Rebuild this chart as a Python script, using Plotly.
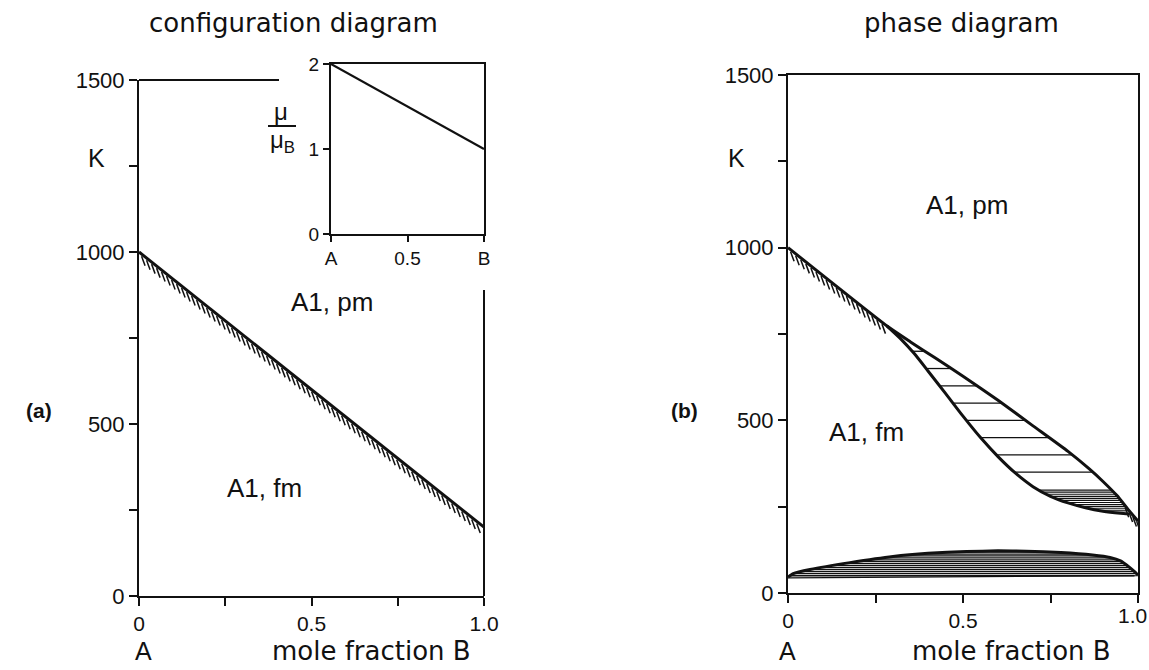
import numpy as np
import plotly.graph_objects as go

# ---- data -------------------------------------------------------------
# (a) configuration diagram: Curie temperature, linear between A and B
tc_x = [0.0, 1.0]
tc_K = [1000, 200]

# inset: magnetic moment per atom (in Bohr magnetons)
mu_x = [0.0, 1.0]
mu_val = [2.0, 1.0]

# (b) phase diagram: upper boundary (pm side) of the fm + pm two-phase field
pm_x = [0.0, 0.283, 0.35, 0.42, 0.50, 0.60, 0.70, 0.80, 0.86, 0.90, 0.94, 0.97, 1.0]
pm_K = [1000, 773, 727, 681, 628, 558, 484, 410, 360, 323, 282, 244, 208]

# lower boundary (fm side) of the two-phase field
fm_x = [0.283, 0.32, 0.36, 0.40, 0.45, 0.50, 0.55, 0.60, 0.65, 0.70, 0.75, 0.80, 0.85, 0.90, 0.95, 0.975]
fm_K = [773, 738, 694, 643, 578, 512, 450, 395, 347, 308, 280, 261, 247, 237, 231, 229]

# low-temperature miscibility gap (lens)
gap_x = [0.0, 0.015, 0.063, 0.177, 0.30, 0.40, 0.51, 0.60, 0.68, 0.78, 0.87, 0.92, 0.95, 0.975, 0.99, 1.0]
gap_K = [46, 56, 68, 88, 106, 115, 120, 122, 121, 117, 110, 103, 93, 75, 62, 52]
gap_floor_K = [44, 50]

# tie-line levels inside the two-phase fields
tie_K_sparse = [700, 650, 600, 550, 500, 450, 400, 350]
tie_K_dense = list(np.arange(298, 234, -6))
tie_K_gap = list(np.arange(50, 121, 6))

# axis ticks: labelled majors and unlabelled minors
x_major = [0, 0.5, 1.0]
x_major_text = ["0", "0.5", "1.0"]
x_minor = [0.25, 0.75]
y_major = [0, 500, 1000, 1500]
y_major_text = ["0", "500", "1000", "1500"]
y_minor = [250, 750, 1250]

# ---- geometry helpers -------------------------------------------------
W, H = 1149, 670
A_PX = (139, 484, 80, 596)    # left, right, top, bottom of panel (a)
B_PX = (788, 1138, 75, 593)   # panel (b)
I_PX = (331, 484, 64, 234)    # inset


def dom(px):
    l, r, t, b = px
    return [l / W, r / W], [1 - b / H, 1 - t / H]


def hatch(xs, Ks, x0, x1, step, px):
    """Short slanted strokes hanging beneath a boundary curve."""
    l, r, t, b = px
    sx = (r - l) / 1.0
    sy = (b - t) / 1500.0
    hx, hy = [], []
    for x in np.arange(x0, x1, step):
        k = np.interp(x, xs, Ks)
        hx += [x + 0.5 / sx, x + 4.0 / sx, None]
        hy += [k - 2.5 / sy, k - 12.0 / sy, None]
    return hx, hy


def ties(levels, lo_x, lo_K, hi_x, hi_K):
    """Horizontal tie lines between two boundaries (K decreasing with x)."""
    tx, ty = [], []
    for k in levels:
        xa = np.interp(k, lo_K[::-1], lo_x[::-1])
        xb = np.interp(k, hi_K[::-1], hi_x[::-1])
        tx += [xa, xb, None]
        ty += [k, k, None]
    return tx, ty


def gap_ties(levels, xs, Ks):
    xs = np.asarray(xs)
    Ks = np.asarray(Ks)
    i = int(np.argmax(Ks))
    tx, ty = [], []
    for k in levels:
        if k > Ks[i] - 2:
            continue
        xa = np.interp(k, Ks[: i + 1], xs[: i + 1]) if k > Ks[0] else 0.01
        xb = np.interp(k, Ks[i:][::-1], xs[i:][::-1]) if k > Ks[-1] else 0.99
        tx += [xa, xb, None]
        ty += [k, k, None]
    return tx, ty


BLACK = "#111111"
fig = go.Figure()

# ---- panel (a) --------------------------------------------------------
hx, hy = hatch(tc_x, tc_K, 0.006, 0.985, 0.0145, A_PX)
fig.add_trace(go.Scatter(x=hx, y=hy, mode="lines", line=dict(color=BLACK, width=1.5),
                         xaxis="x", yaxis="y", hoverinfo="skip", cliponaxis=False))
fig.add_trace(go.Scatter(x=tc_x, y=tc_K, mode="lines", line=dict(color=BLACK, width=3),
                         xaxis="x", yaxis="y"))

# inset
fig.add_trace(go.Scatter(x=mu_x, y=mu_val, mode="lines", line=dict(color=BLACK, width=2.2),
                         xaxis="x3", yaxis="y3"))

# ---- panel (b) --------------------------------------------------------
tx, ty = ties(tie_K_sparse, fm_x, fm_K, pm_x, pm_K)
fig.add_trace(go.Scatter(x=tx, y=ty, mode="lines", line=dict(color=BLACK, width=1.3),
                         xaxis="x2", yaxis="y2", hoverinfo="skip"))
tx, ty = ties(tie_K_dense, fm_x, fm_K, pm_x, pm_K)
fig.add_trace(go.Scatter(x=tx, y=ty, mode="lines", line=dict(color=BLACK, width=1.2),
                         xaxis="x2", yaxis="y2", hoverinfo="skip"))

hx, hy = hatch(pm_x, pm_K, 0.006, 0.27, 0.0145, B_PX)
hx2, hy2 = hatch(pm_x, pm_K, 0.962, 0.995, 0.011, B_PX)
fig.add_trace(go.Scatter(x=hx + hx2, y=hy + hy2, mode="lines", line=dict(color=BLACK, width=1.5),
                         xaxis="x2", yaxis="y2", hoverinfo="skip"))

fig.add_trace(go.Scatter(x=pm_x, y=pm_K, mode="lines",
                         line=dict(color=BLACK, width=3, shape="spline", smoothing=0.5),
                         xaxis="x2", yaxis="y2"))
fig.add_trace(go.Scatter(x=fm_x, y=fm_K, mode="lines",
                         line=dict(color=BLACK, width=3, shape="spline", smoothing=0.5),
                         xaxis="x2", yaxis="y2"))

# miscibility gap
tx, ty = gap_ties(tie_K_gap, gap_x, gap_K)
fig.add_trace(go.Scatter(x=tx, y=ty, mode="lines", line=dict(color=BLACK, width=1.3),
                         xaxis="x2", yaxis="y2", hoverinfo="skip"))
fig.add_trace(go.Scatter(x=[0.0, 1.0], y=gap_floor_K, mode="lines", line=dict(color=BLACK, width=1.2),
                         xaxis="x2", yaxis="y2"))
fig.add_trace(go.Scatter(x=gap_x, y=gap_K, mode="lines",
                         line=dict(color=BLACK, width=3, shape="spline", smoothing=0.4),
                         xaxis="x2", yaxis="y2"))

# ---- axes -------------------------------------------------------------
FAM = "Liberation Sans, Arial, sans-serif"
common = dict(showgrid=False, zeroline=False, showline=True, linecolor=BLACK, linewidth=2,
              ticks="outside", ticklen=8, tickwidth=2, tickcolor=BLACK, automargin=False,
              ticklabeloverflow="allow")


def minor(vals):
    return dict(tickvals=vals, ticks="outside", ticklen=8, tickwidth=2, tickcolor=BLACK, showgrid=False)


xfont = dict(family=FAM, size=21, color=BLACK)
yfont = dict(family=FAM, size=22, color=BLACK)
ifont = dict(family=FAM, size=19, color=BLACK)

ax_dx, ax_dy = dom(A_PX)
bx_dx, bx_dy = dom(B_PX)
in_dx, in_dy = dom(I_PX)

fig.update_layout(
    xaxis=dict(domain=ax_dx, range=[0, 1], tickvals=x_major, ticktext=x_major_text,
               minor=minor(x_minor), anchor="y", tickfont=xfont, **common),
    yaxis=dict(domain=ax_dy, range=[0, 1500], tickvals=y_major, ticktext=y_major_text,
               minor=minor(y_minor), anchor="x", tickfont=yfont, **common),
    # the last abscissa label of (b) sits against the page edge and is added below
    xaxis2=dict(domain=bx_dx, range=[0, 1], tickvals=x_major[:2], ticktext=x_major_text[:2],
                minor=minor(x_minor + x_major[2:]), anchor="y2", mirror=True, tickfont=xfont, **common),
    yaxis2=dict(domain=bx_dy, range=[0, 1500], tickvals=y_major, ticktext=y_major_text,
                minor=minor(y_minor), anchor="x2", mirror=True, tickfont=yfont, **common),
    xaxis3=dict(domain=in_dx, range=[0, 1], tickvals=[0, 0.5, 1], ticktext=["A", "0.5", "B"],
                anchor="y3", mirror=True, tickfont=ifont,
                **{**common, "ticklen": 6}),
    yaxis3=dict(domain=in_dy, range=[0, 2], tickvals=[0, 1, 2], ticktext=["0", "1", "2"],
                anchor="x3", mirror=True, tickfont=ifont,
                **{**common, "ticklen": 6}),
    width=W, height=H, margin=dict(l=0, r=0, t=0, b=0, pad=0, autoexpand=False),
    paper_bgcolor="white", plot_bgcolor="rgba(0,0,0,0)", showlegend=False,
)

fig.add_annotation(x=x_major[2], y=0, xref="x2", yref="y2", text=x_major_text[2], showarrow=False,
                   xanchor="right", yanchor="top", xshift=10, yshift=-10,
                   font=xfont, borderpad=0)

# partial frame of panel (a): top edge stops at the inset, right edge stops below it
fig.add_shape(type="line", xref="paper", yref="paper", x0=A_PX[0] / W, x1=279 / W,
              y0=1 - A_PX[2] / H, y1=1 - A_PX[2] / H, line=dict(color=BLACK, width=2))
fig.add_shape(type="line", xref="paper", yref="paper", x0=A_PX[1] / W, x1=A_PX[1] / W,
              y0=1 - A_PX[3] / H, y1=1 - 290 / H, line=dict(color=BLACK, width=2))

# ---- text -------------------------------------------------------------
round_font = "DejaVu Sans, sans-serif"


def ptext(px, py, text, size, family=round_font, bold=False):
    t = f"<b>{text}</b>" if bold else text
    fig.add_annotation(x=px / W, y=1 - py / H, xref="paper", yref="paper", text=t,
                       showarrow=False, font=dict(family=family, size=size, color=BLACK),
                       xanchor="center", yanchor="middle", borderpad=0)


ptext(293, 23, "configuration diagram", 26)
ptext(961, 23, "phase diagram", 26)
ptext(96, 158, "K", 25, FAM)
ptext(736, 158, "K", 25, FAM)
ptext(39, 410, "(a)", 21, FAM, bold=True)
ptext(684, 410, "(b)", 21, FAM, bold=True)
ptext(143, 651, "A", 25, FAM)
ptext(787, 651, "A", 25, FAM)
ptext(371, 651, "mole fraction B", 26)
ptext(1011, 651, "mole fraction B", 26)

# inset ordinate label  mu / mu_B
ptext(281, 111, "μ", 24, FAM)
ptext(282, 141, "μ<sub>B</sub>", 24, FAM)
fig.add_shape(type="line", xref="paper", yref="paper", x0=268 / W, x1=296 / W,
              y0=1 - 126 / H, y1=1 - 126 / H, line=dict(color=BLACK, width=2))

# phase labels in data coordinates
for ax, x, k, t in [("", 0.56, 855, "A1, pm"), ("", 0.365, 314, "A1, fm"),
                    ("2", 0.511, 1124, "A1, pm"), ("2", 0.223, 466, "A1, fm")]:
    fig.add_annotation(x=x, y=k, xref="x" + ax, yref="y" + ax, text=t, showarrow=False,
                       font=dict(family=FAM, size=26, color=BLACK))

fig.write_html("out.html")
